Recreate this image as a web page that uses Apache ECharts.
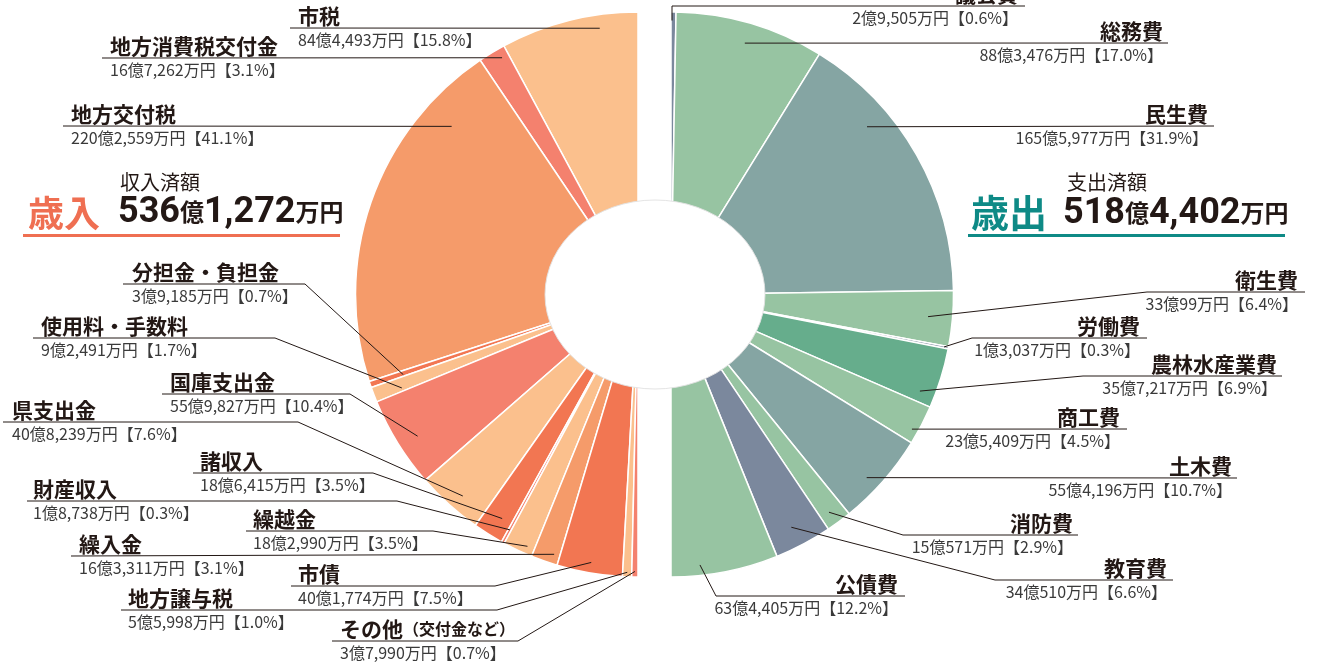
<!DOCTYPE html>
<html>
<head>
<meta charset="utf-8">
<script src="https://cdn.jsdelivr.net/npm/echarts@6/dist/echarts.min.js"></script>
<style>
html,body{margin:0;padding:0;background:#fff}
#main{width:1326px;height:663px}
</style>
</head>
<body>
<div id="main"></div>
<script>
'use strict'
// 歳入 (単位: 万円)
const inNames = ['市税','地方消費税交付金','地方交付税','分担金・負担金','使用料・手数料','国庫支出金','県支出金','諸収入','財産収入','繰越金','繰入金','市債','地方譲与税','その他（交付金など）'];
const inValues = [844493,167262,2202559,39185,92491,559827,408239,186415,18738,182990,163311,401774,55998,37990];
const inPercents = ['15.8','3.1','41.1','0.7','1.7','10.4','7.6','3.5','0.3','3.5','3.1','7.5','1.0','0.7'];
// 歳出 (単位: 万円)
const outNames = ['議会費','総務費','民生費','衛生費','労働費','農林水産業費','商工費','土木費','消防費','教育費','公債費'];
const outValues = [29505,883476,1655977,330099,13037,357217,235409,554196,150571,340510,634405];
const outPercents = ['0.6','17.0','31.9','6.4','0.3','6.9','4.5','10.7','2.9','6.6','12.2'];

const inColors = ['#fbc08d','#f4816e','#f59b6a','#f27652','#fbc08d','#f4816e','#fbc08d','#f27652','#f4816e','#fbc08d','#f59b6a','#f27652','#fbc08d','#f4816e'];
const outColors = ['#7b889d','#97c4a2','#85a5a3','#97c4a2','#7b889d','#66ad8c','#97c4a2','#85a5a3','#97c4a2','#7b889d','#97c4a2'];

// ラベル配置 [文字x, 線y, 線端x, 折れ点x, 角度補正, 起点半径]
const inLabelPos = [
	[298,28,290,null,-6,269],
	[110,58,102,null,-1.3,273],
	[71,126,63,null,-23,251],
	[132,284,123,305,0.3,248],
	[41,338,33,275,0.8,254],
	[170,394,162,350,1,262],
	[12,422,3,298,1,267],
	[200,473,193,373,0.8,262],
	[33,501,27,397,0,268],
	[253,531,246,433,1.5,275],
	[79,556,71,null,1.5,273],
	[298,586,291,495,0,272],
	[128,610,121,497,0,278],
	[340,641,332,518,0,277]
];
const outLabelPos = [
	[1018,6,1025,672,-0.3,274],
	[1163,43,1168,null,0,262],
	[1208,126,1214,null,-11,258],
	[1298,292,1305,1147,0,258],
	[1140,338,1147,972,0,278],
	[1277,376,1282,1083,3.9,267],
	[1120,429,1127,null,1.6,276],
	[1232,478,1237,null,1.8,268],
	[1073,535,1078,903,0.5,269],
	[1167,580,1173,995,0.6,262],
	[898,596,905,716,4.9,272]
];

const F = '"Noto Sans CJK JP"';
const cy = 294.5, R = 282.5, cxIn = 638, cxOut = 671;

function mids(vals){
	let tot = vals.reduce((a,b)=>a+b,0), acc = 0;
	return vals.map(v=>{
		let m = (acc + v/2)/tot*180;
		acc += v;
		return m
	})
}
const inMid = mids(inValues), outMid = mids(outValues);

function yen(v){
	let oku = Math.floor(v/10000), man = v % 10000;
	return oku + '億' + (man ? man.toLocaleString('en-US') + '万' : '') + '円'
}
function labelText(name, value, pct){
	let head;
	let k = name.indexOf('（');
	if(k > 0) head = `{n|${name.slice(0,k)}}{s|${name.slice(k)}}`;
	else head = `{n|${name}}`;
	return `${head}\n{v|${yen(value)}【${pct}%】}`
}
const rich = {
	n: {fontFamily: F, fontSize: 21, fontWeight: 'bold', color: '#231815', lineHeight: 24},
	s: {fontFamily: F, fontSize: 16, fontWeight: 'bold', color: '#231815', lineHeight: 24},
	v: {fontFamily: F, fontSize: 16, color: '#3a3a3a', lineHeight: 24}
};

function makeLayout(pos, mid, cx, side){
	return function(p){
		let L = pos[p.dataIndex];
		let th = (mid[p.dataIndex] + L[4]) * Math.PI/180;
		let ax = cx + side*L[5]*Math.sin(th), ay = cy - L[5]*Math.cos(th);
		let pts = L[3] == null ? [[ax,ay],[L[2],L[1]]] : [[ax,ay],[L[3],L[1]],[L[2],L[1]]];
		return {
			x: L[0], y: L[1],
			align: side < 0 ? 'left' : 'right',
			verticalAlign: 'middle',
			hideOverlap: false,
			labelLinePoints: pts
		}
	}
}

// 扇形 (下) とラベル用の透明な扇形 (上) を重ねる
function pieSeries(name, names, values, pcts, colors, pos, mid, cx, side, withLabel){
	let s = {
		name: name,
		type: 'pie',
		center: [cx, cy],
		radius: [60, R],
		startAngle: 90,
		endAngle: side < 0 ? 270 : -90,
		clockwise: side > 0,
		avoidLabelOverlap: false,
		emphasis: {disabled: true},
		data: names.map((n,i)=>({name: n, value: values[i]}))
	};
	if(withLabel){
		s.z = 5;
		s.silent = true;
		s.itemStyle = {color: 'rgba(0,0,0,0)', borderWidth: 0};
		s.label = {
			show: true, position: 'outside', overflow: 'none',
			formatter: p => labelText(names[p.dataIndex], values[p.dataIndex], pcts[p.dataIndex]),
			rich: rich
		};
		s.labelLine = {show: true, lineStyle: {color: '#231815', width: 1}};
		s.labelLayout = makeLayout(pos, mid, cx, side);
	}else{
		s.itemStyle = {borderColor: '#fff', borderWidth: 1.5};
		s.label = {show: false};
		s.labelLine = {show: false};
		s.data.forEach((d,i)=>{ d.itemStyle = {color: colors[i]} });
	}
	return s
}

let chart = echarts.init(document.getElementById('main'));
let unitRich = (color, size, pad) => ({
	a: {fontFamily: F, fontSize: size, fontWeight: 'bold', fill: color, padding: [0,pad,0,0], verticalAlign: 'bottom'},
	n: {fontFamily: 'Roboto,' + F, fontSize: 36, fontWeight: 'bold', fill: '#231815', verticalAlign: 'bottom'},
	u: {fontFamily: F, fontSize: 24, fontWeight: 'bold', fill: '#231815', verticalAlign: 'bottom', padding: [0,0,7,0]}
});
let option = {
	animation: false,
	backgroundColor: '#fff',
	textStyle: {fontFamily: F},
	series: [
		pieSeries('歳入', inNames, inValues, inPercents, inColors, inLabelPos, inMid, cxIn, -1, false),
		pieSeries('歳出', outNames, outValues, outPercents, outColors, outLabelPos, outMid, cxOut, 1, false),
		pieSeries('歳入ラベル', inNames, inValues, inPercents, inColors, inLabelPos, inMid, cxIn, -1, true),
		pieSeries('歳出ラベル', outNames, outValues, outPercents, outColors, outLabelPos, outMid, cxOut, 1, true)
	],
	graphic: [
		// 中央の穴
		{type: 'circle', x: 655, y: cy, scaleY: 94.5/110, shape: {cx: 0, cy: 0, r: 110},
			style: {fill: '#fff', stroke: '#e2e2e2', lineWidth: 1}, z: 4},
		{type: 'text', x: 120, y: 182, z: 100,
			style: {text: '収入済額', font: '20px ' + F, fill: '#231815', verticalAlign: 'middle'}},
		{type: 'text', x: 28, y: 213, z: 100,
			style: {text: '{a|歳入}{n|536}{u|億}{n|1,272}{u|万円}', verticalAlign: 'middle', rich: unitRich('#ef6f52', 36, 18)}},
		{type: 'rect', shape: {x: 23, y: 234, width: 317, height: 3}, style: {fill: '#ef6f52'}, z: 100},
		{type: 'text', x: 1067, y: 182, z: 100,
			style: {text: '支出済額', font: '20px ' + F, fill: '#231815', verticalAlign: 'middle'}},
		{type: 'text', x: 971, y: 213, z: 100,
			style: {text: '{a|歳出}{n|518}{u|億}{n|4,402}{u|万円}', verticalAlign: 'middle', rich: unitRich('#0e8a86', 38, 16)}},
		{type: 'rect', shape: {x: 968, y: 234, width: 317, height: 3}, style: {fill: '#0e8a86'}, z: 100}
	]
};
chart.setOption(option);
</script>
</body>
</html>
